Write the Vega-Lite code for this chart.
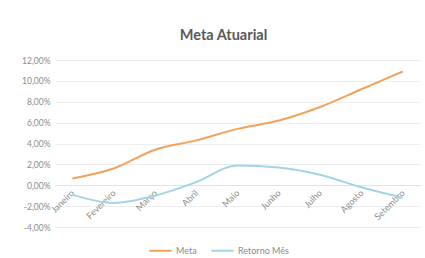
{
  "$schema": "https://vega.github.io/schema/vega-lite/v6.json",
  "width": 365,
  "height": 167,
  "autosize": {"type": "none"},
  "padding": {"left": 55, "top": 60, "right": 5, "bottom": 31},
  "background": "white",
  "title": {"text": "Meta Atuarial", "font": "Lato", "fontSize": 14.5, "fontWeight": "bold", "color": "#595959", "anchor": "middle", "offset": 13, "dx": -14},
  "data": {"values": [
    {"mes": "Janeiro", "serie": "Meta", "valor": 0.0065},
    {"mes": "Fevereiro", "serie": "Meta", "valor": 0.016},
    {"mes": "Março", "serie": "Meta", "valor": 0.034},
    {"mes": "Abril", "serie": "Meta", "valor": 0.043},
    {"mes": "Maio", "serie": "Meta", "valor": 0.054},
    {"mes": "Junho", "serie": "Meta", "valor": 0.062},
    {"mes": "Julho", "serie": "Meta", "valor": 0.075},
    {"mes": "Agosto", "serie": "Meta", "valor": 0.092},
    {"mes": "Setembro", "serie": "Meta", "valor": 0.109},
    {"mes": "Janeiro", "serie": "Retorno Mês", "valor": -0.009},
    {"mes": "Fevereiro", "serie": "Retorno Mês", "valor": -0.017},
    {"mes": "Março", "serie": "Retorno Mês", "valor": -0.010},
    {"mes": "Abril", "serie": "Retorno Mês", "valor": 0.003},
    {"mes": "Maio", "serie": "Retorno Mês", "valor": 0.019},
    {"mes": "Junho", "serie": "Retorno Mês", "valor": 0.017},
    {"mes": "Julho", "serie": "Retorno Mês", "valor": 0.010},
    {"mes": "Agosto", "serie": "Retorno Mês", "valor": -0.002},
    {"mes": "Setembro", "serie": "Retorno Mês", "valor": -0.012}
  ]},
  "mark": {"type": "line", "interpolate": "monotone", "strokeWidth": 2},
  "encoding": {
    "x": {
      "field": "mes", "type": "nominal",
      "sort": ["Janeiro", "Fevereiro", "Março", "Abril", "Maio", "Junho", "Julho", "Agosto", "Setembro"],
      "scale": {"type": "point", "padding": 0.42},
      "axis": {"title": null, "labelAngle": -45, "labelAlign": "right", "labelBaseline": "middle", "labelFont": "Lato", "labelFontSize": 9, "labelColor": "#8c8c8c", "ticks": false, "domain": true, "domainColor": "#e2e2e2", "grid": false, "labelPadding": 6, "offset": -42}
    },
    "y": {
      "field": "valor", "type": "quantitative",
      "scale": {"domain": [-0.04, 0.12], "nice": false},
      "axis": {"title": null, "values": [-0.04, -0.02, 0, 0.02, 0.04, 0.06, 0.08, 0.1, 0.12],
        "labelExpr": "replace(replace(format(datum.value, '.2%'), '.', ','), '−', '-')",
        "labelFont": "Lato", "labelFontSize": 8.5, "labelColor": "#8c8c8c", "ticks": false, "domain": false,
        "gridColor": "#eeeeee", "labelPadding": 5}
    },
    "color": {
      "field": "serie", "type": "nominal",
      "scale": {"domain": ["Meta", "Retorno Mês"], "range": ["#F2A25C", "#A3D3E6"]},
      "legend": {"title": null, "orient": "none", "legendX": 93, "legendY": 178, "direction": "horizontal", "symbolType": "stroke", "symbolSize": 500, "symbolStrokeWidth": 2, "labelFont": "Lato", "labelFontSize": 9, "labelColor": "#8c8c8c", "columnPadding": 10, "labelOffset": 3}
    }
  },
  "config": {"view": {"stroke": null}}
}
